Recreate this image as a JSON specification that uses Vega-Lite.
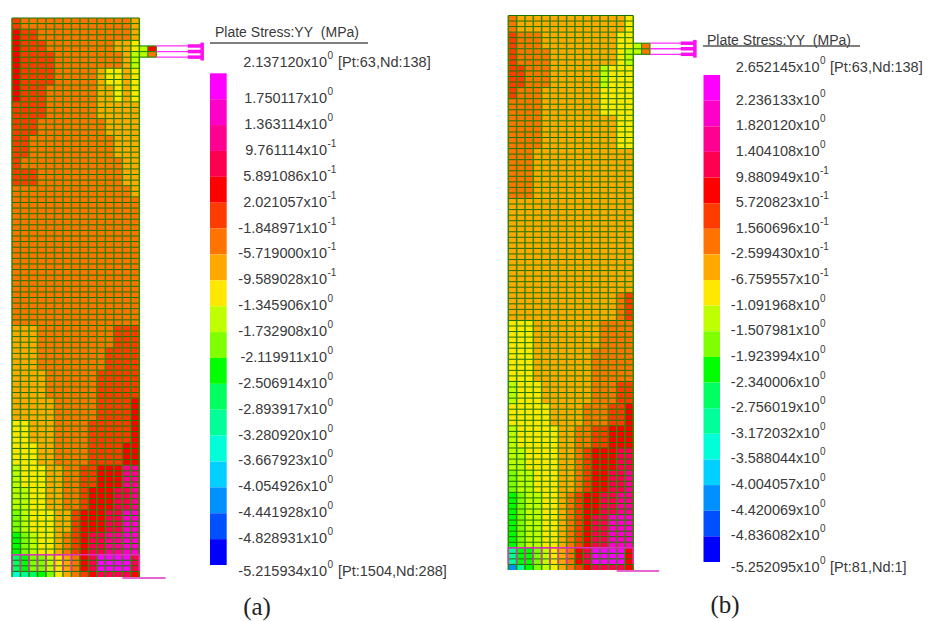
{"$schema":"https://vega.github.io/schema/vega-lite/v6.json","padding":0,"spacing":0,"background":"#ffffff","config":{"view":{"stroke":null},"axis":{"disable":true},"concat":{"spacing":0}},
"datasets":{
"vlines":[{"c0":0,"c1":0,"r0":0,"r1":100},{"c0":1,"c1":1,"r0":0,"r1":100},{"c0":2,"c1":2,"r0":0,"r1":100},{"c0":3,"c1":3,"r0":0,"r1":100},{"c0":4,"c1":4,"r0":0,"r1":100},{"c0":5,"c1":5,"r0":0,"r1":100},{"c0":6,"c1":6,"r0":0,"r1":100},{"c0":7,"c1":7,"r0":0,"r1":100},{"c0":8,"c1":8,"r0":0,"r1":100},{"c0":9,"c1":9,"r0":0,"r1":100},{"c0":10,"c1":10,"r0":0,"r1":100},{"c0":11,"c1":11,"r0":0,"r1":100},{"c0":12,"c1":12,"r0":0,"r1":100},{"c0":13,"c1":13,"r0":0,"r1":100},{"c0":14,"c1":14,"r0":0,"r1":100},{"c0":15,"c1":15,"r0":0,"r1":100}],
"hlines":[{"c0":0,"c1":15,"r0":0,"r1":0},{"c0":0,"c1":15,"r0":1,"r1":1},{"c0":0,"c1":15,"r0":2,"r1":2},{"c0":0,"c1":15,"r0":3,"r1":3},{"c0":0,"c1":15,"r0":4,"r1":4},{"c0":0,"c1":15,"r0":5,"r1":5},{"c0":0,"c1":15,"r0":6,"r1":6},{"c0":0,"c1":15,"r0":7,"r1":7},{"c0":0,"c1":15,"r0":8,"r1":8},{"c0":0,"c1":15,"r0":9,"r1":9},{"c0":0,"c1":15,"r0":10,"r1":10},{"c0":0,"c1":15,"r0":11,"r1":11},{"c0":0,"c1":15,"r0":12,"r1":12},{"c0":0,"c1":15,"r0":13,"r1":13},{"c0":0,"c1":15,"r0":14,"r1":14},{"c0":0,"c1":15,"r0":15,"r1":15},{"c0":0,"c1":15,"r0":16,"r1":16},{"c0":0,"c1":15,"r0":17,"r1":17},{"c0":0,"c1":15,"r0":18,"r1":18},{"c0":0,"c1":15,"r0":19,"r1":19},{"c0":0,"c1":15,"r0":20,"r1":20},{"c0":0,"c1":15,"r0":21,"r1":21},{"c0":0,"c1":15,"r0":22,"r1":22},{"c0":0,"c1":15,"r0":23,"r1":23},{"c0":0,"c1":15,"r0":24,"r1":24},{"c0":0,"c1":15,"r0":25,"r1":25},{"c0":0,"c1":15,"r0":26,"r1":26},{"c0":0,"c1":15,"r0":27,"r1":27},{"c0":0,"c1":15,"r0":28,"r1":28},{"c0":0,"c1":15,"r0":29,"r1":29},{"c0":0,"c1":15,"r0":30,"r1":30},{"c0":0,"c1":15,"r0":31,"r1":31},{"c0":0,"c1":15,"r0":32,"r1":32},{"c0":0,"c1":15,"r0":33,"r1":33},{"c0":0,"c1":15,"r0":34,"r1":34},{"c0":0,"c1":15,"r0":35,"r1":35},{"c0":0,"c1":15,"r0":36,"r1":36},{"c0":0,"c1":15,"r0":37,"r1":37},{"c0":0,"c1":15,"r0":38,"r1":38},{"c0":0,"c1":15,"r0":39,"r1":39},{"c0":0,"c1":15,"r0":40,"r1":40},{"c0":0,"c1":15,"r0":41,"r1":41},{"c0":0,"c1":15,"r0":42,"r1":42},{"c0":0,"c1":15,"r0":43,"r1":43},{"c0":0,"c1":15,"r0":44,"r1":44},{"c0":0,"c1":15,"r0":45,"r1":45},{"c0":0,"c1":15,"r0":46,"r1":46},{"c0":0,"c1":15,"r0":47,"r1":47},{"c0":0,"c1":15,"r0":48,"r1":48},{"c0":0,"c1":15,"r0":49,"r1":49},{"c0":0,"c1":15,"r0":50,"r1":50},{"c0":0,"c1":15,"r0":51,"r1":51},{"c0":0,"c1":15,"r0":52,"r1":52},{"c0":0,"c1":15,"r0":53,"r1":53},{"c0":0,"c1":15,"r0":54,"r1":54},{"c0":0,"c1":15,"r0":55,"r1":55},{"c0":0,"c1":15,"r0":56,"r1":56},{"c0":0,"c1":15,"r0":57,"r1":57},{"c0":0,"c1":15,"r0":58,"r1":58},{"c0":0,"c1":15,"r0":59,"r1":59},{"c0":0,"c1":15,"r0":60,"r1":60},{"c0":0,"c1":15,"r0":61,"r1":61},{"c0":0,"c1":15,"r0":62,"r1":62},{"c0":0,"c1":15,"r0":63,"r1":63},{"c0":0,"c1":15,"r0":64,"r1":64},{"c0":0,"c1":15,"r0":65,"r1":65},{"c0":0,"c1":15,"r0":66,"r1":66},{"c0":0,"c1":15,"r0":67,"r1":67},{"c0":0,"c1":15,"r0":68,"r1":68},{"c0":0,"c1":15,"r0":69,"r1":69},{"c0":0,"c1":15,"r0":70,"r1":70},{"c0":0,"c1":15,"r0":71,"r1":71},{"c0":0,"c1":15,"r0":72,"r1":72},{"c0":0,"c1":15,"r0":73,"r1":73},{"c0":0,"c1":15,"r0":74,"r1":74},{"c0":0,"c1":15,"r0":75,"r1":75},{"c0":0,"c1":15,"r0":76,"r1":76},{"c0":0,"c1":15,"r0":77,"r1":77},{"c0":0,"c1":15,"r0":78,"r1":78},{"c0":0,"c1":15,"r0":79,"r1":79},{"c0":0,"c1":15,"r0":80,"r1":80},{"c0":0,"c1":15,"r0":81,"r1":81},{"c0":0,"c1":15,"r0":82,"r1":82},{"c0":0,"c1":15,"r0":83,"r1":83},{"c0":0,"c1":15,"r0":84,"r1":84},{"c0":0,"c1":15,"r0":85,"r1":85},{"c0":0,"c1":15,"r0":86,"r1":86},{"c0":0,"c1":15,"r0":87,"r1":87},{"c0":0,"c1":15,"r0":88,"r1":88},{"c0":0,"c1":15,"r0":89,"r1":89},{"c0":0,"c1":15,"r0":90,"r1":90},{"c0":0,"c1":15,"r0":91,"r1":91},{"c0":0,"c1":15,"r0":92,"r1":92},{"c0":0,"c1":15,"r0":93,"r1":93},{"c0":0,"c1":15,"r0":94,"r1":94},{"c0":0,"c1":15,"r0":95,"r1":95},{"c0":0,"c1":15,"r0":96,"r1":96},{"c0":0,"c1":15,"r0":97,"r1":97},{"c0":0,"c1":15,"r0":98,"r1":98},{"c0":0,"c1":15,"r0":99,"r1":99}],
"strut":[{"c0":15,"c1":17,"r0":5,"r1":5},{"c0":15,"c1":17,"r0":6,"r1":6},{"c0":15,"c1":17,"r0":7,"r1":7},{"c0":16,"c1":16,"r0":5,"r1":7},{"c0":17,"c1":17,"r0":5,"r1":7}],
"loadA":[{"c0":17,"c1":22.5,"r0":5,"r1":5},{"c0":17,"c1":22.5,"r0":6,"r1":6},{"c0":17,"c1":22.5,"r0":7,"r1":7}],
"headA":[{"c0":20.7,"c1":22.5,"r0":5,"r1":5},{"c0":20.7,"c1":22.5,"r0":6,"r1":6},{"c0":20.7,"c1":22.5,"r0":7,"r1":7},{"c0":22.4,"c1":22.4,"r0":4.4,"r1":7.6}],
"pinkV":[{"c0":0,"c1":0,"r0":96,"r1":99},{"c0":1,"c1":1,"r0":96,"r1":99},{"c0":2,"c1":2,"r0":96,"r1":99},{"c0":3,"c1":3,"r0":96,"r1":99},{"c0":4,"c1":4,"r0":96,"r1":99},{"c0":5,"c1":5,"r0":96,"r1":99},{"c0":6,"c1":6,"r0":96,"r1":99},{"c0":7,"c1":7,"r0":96,"r1":99},{"c0":0,"c1":15,"r0":96,"r1":96},{"c0":15,"c1":15,"r0":96,"r1":99},{"c0":13,"c1":18.1,"r0":100.2,"r1":100.2}],
"cellsA":[
{"c0":0,"c1":1,"r0":0,"r1":2,"l":6},{"c0":1,"c1":14,"r0":0,"r1":2,"l":7},{"c0":14,"c1":15,"r0":0,"r1":2,"l":8},
{"c0":0,"c1":1,"r0":2,"r1":4,"l":5},{"c0":1,"c1":3,"r0":2,"r1":4,"l":6},{"c0":3,"c1":14,"r0":2,"r1":4,"l":7},{"c0":14,"c1":15,"r0":2,"r1":4,"l":8},
{"c0":0,"c1":1,"r0":4,"r1":6,"l":5},{"c0":1,"c1":4,"r0":4,"r1":6,"l":6},{"c0":4,"c1":12,"r0":4,"r1":6,"l":7},{"c0":12,"c1":14,"r0":4,"r1":6,"l":8},{"c0":14,"c1":15,"r0":4,"r1":6,"l":9},
{"c0":0,"c1":1,"r0":6,"r1":9,"l":5},{"c0":1,"c1":5,"r0":6,"r1":9,"l":6},{"c0":5,"c1":13,"r0":6,"r1":9,"l":7},{"c0":13,"c1":14,"r0":6,"r1":9,"l":8},{"c0":14,"c1":15,"r0":6,"r1":9,"l":10},
{"c0":0,"c1":1,"r0":9,"r1":12,"l":5},{"c0":1,"c1":5,"r0":9,"r1":12,"l":6},{"c0":5,"c1":10,"r0":9,"r1":12,"l":7},{"c0":10,"c1":11,"r0":9,"r1":12,"l":8},{"c0":11,"c1":13,"r0":9,"r1":12,"l":9},{"c0":13,"c1":14,"r0":9,"r1":12,"l":8},{"c0":14,"c1":15,"r0":9,"r1":12,"l":9},
{"c0":0,"c1":1,"r0":12,"r1":15,"l":5},{"c0":1,"c1":4,"r0":12,"r1":15,"l":6},{"c0":4,"c1":10,"r0":12,"r1":15,"l":7},{"c0":10,"c1":12,"r0":12,"r1":15,"l":8},{"c0":12,"c1":13,"r0":12,"r1":15,"l":9},{"c0":13,"c1":14,"r0":12,"r1":15,"l":8},{"c0":14,"c1":15,"r0":12,"r1":15,"l":9},
{"c0":0,"c1":4,"r0":15,"r1":18,"l":6},{"c0":4,"c1":10,"r0":15,"r1":18,"l":7},{"c0":10,"c1":15,"r0":15,"r1":18,"l":8},
{"c0":0,"c1":3,"r0":18,"r1":21,"l":6},{"c0":3,"c1":11,"r0":18,"r1":21,"l":7},{"c0":11,"c1":15,"r0":18,"r1":21,"l":8},
{"c0":0,"c1":2,"r0":21,"r1":25,"l":6},{"c0":2,"c1":12,"r0":21,"r1":25,"l":7},{"c0":12,"c1":15,"r0":21,"r1":25,"l":8},
{"c0":0,"c1":1,"r0":25,"r1":27,"l":6},{"c0":1,"c1":13,"r0":25,"r1":27,"l":7},{"c0":13,"c1":15,"r0":25,"r1":27,"l":8},
{"c0":0,"c1":3,"r0":27,"r1":30,"l":6},{"c0":3,"c1":13,"r0":27,"r1":30,"l":7},{"c0":13,"c1":15,"r0":27,"r1":30,"l":8},
{"c0":0,"c1":14,"r0":30,"r1":32,"l":7},{"c0":14,"c1":15,"r0":30,"r1":32,"l":8},
{"c0":0,"c1":15,"r0":32,"r1":55,"l":7},
{"c0":0,"c1":3,"r0":55,"r1":59,"l":8},{"c0":3,"c1":12,"r0":55,"r1":59,"l":7},{"c0":12,"c1":15,"r0":55,"r1":59,"l":6},
{"c0":0,"c1":3,"r0":59,"r1":63,"l":8},{"c0":3,"c1":11,"r0":59,"r1":63,"l":7},{"c0":11,"c1":15,"r0":59,"r1":63,"l":6},
{"c0":0,"c1":4,"r0":63,"r1":68,"l":8},{"c0":4,"c1":10,"r0":63,"r1":68,"l":7},{"c0":10,"c1":15,"r0":63,"r1":68,"l":6},
{"c0":0,"c1":5,"r0":68,"r1":72,"l":8},{"c0":5,"c1":10,"r0":68,"r1":72,"l":7},{"c0":10,"c1":14,"r0":68,"r1":72,"l":6},{"c0":14,"c1":15,"r0":68,"r1":72,"l":5},
{"c0":0,"c1":2,"r0":72,"r1":76,"l":9},{"c0":2,"c1":5,"r0":72,"r1":76,"l":8},{"c0":5,"c1":9,"r0":72,"r1":76,"l":7},{"c0":9,"c1":14,"r0":72,"r1":76,"l":6},{"c0":14,"c1":15,"r0":72,"r1":76,"l":5},
{"c0":0,"c1":3,"r0":76,"r1":80,"l":9},{"c0":3,"c1":5,"r0":76,"r1":80,"l":8},{"c0":5,"c1":9,"r0":76,"r1":80,"l":7},{"c0":9,"c1":13,"r0":76,"r1":80,"l":6},{"c0":13,"c1":15,"r0":76,"r1":80,"l":5},
{"c0":0,"c1":1,"r0":80,"r1":84,"l":10},{"c0":1,"c1":4,"r0":80,"r1":84,"l":9},{"c0":4,"c1":6,"r0":80,"r1":84,"l":8},{"c0":6,"c1":8,"r0":80,"r1":84,"l":7},{"c0":8,"c1":10,"r0":80,"r1":84,"l":6},{"c0":10,"c1":13,"r0":80,"r1":84,"l":5},{"c0":13,"c1":15,"r0":80,"r1":84,"l":3},
{"c0":0,"c1":2,"r0":84,"r1":88,"l":10},{"c0":2,"c1":4,"r0":84,"r1":88,"l":9},{"c0":4,"c1":6,"r0":84,"r1":88,"l":8},{"c0":6,"c1":8,"r0":84,"r1":88,"l":7},{"c0":8,"c1":9,"r0":84,"r1":88,"l":6},{"c0":9,"c1":12,"r0":84,"r1":88,"l":5},{"c0":12,"c1":14,"r0":84,"r1":88,"l":4},{"c0":14,"c1":15,"r0":84,"r1":88,"l":3},
{"c0":0,"c1":1,"r0":88,"r1":92,"l":11},{"c0":1,"c1":2,"r0":88,"r1":92,"l":10},{"c0":2,"c1":5,"r0":88,"r1":92,"l":9},{"c0":5,"c1":7,"r0":88,"r1":92,"l":8},{"c0":7,"c1":8,"r0":88,"r1":92,"l":6},{"c0":8,"c1":11,"r0":88,"r1":92,"l":5},{"c0":11,"c1":13,"r0":88,"r1":92,"l":4},{"c0":13,"c1":15,"r0":88,"r1":92,"l":2},
{"c0":0,"c1":1,"r0":92,"r1":96,"l":12},{"c0":1,"c1":2,"r0":92,"r1":96,"l":11},{"c0":2,"c1":3,"r0":92,"r1":96,"l":10},{"c0":3,"c1":5,"r0":92,"r1":96,"l":9},{"c0":5,"c1":6,"r0":92,"r1":96,"l":8},{"c0":6,"c1":7,"r0":92,"r1":96,"l":7},{"c0":7,"c1":8,"r0":92,"r1":96,"l":6},{"c0":8,"c1":9,"r0":92,"r1":96,"l":5},{"c0":9,"c1":11,"r0":92,"r1":96,"l":4},{"c0":11,"c1":13,"r0":92,"r1":96,"l":3},{"c0":13,"c1":15,"r0":92,"r1":96,"l":2},
{"c0":0,"c1":1,"r0":96,"r1":99,"l":13},{"c0":1,"c1":2,"r0":96,"r1":99,"l":12},{"c0":2,"c1":4,"r0":96,"r1":99,"l":11},{"c0":4,"c1":5,"r0":96,"r1":99,"l":10},{"c0":5,"c1":6,"r0":96,"r1":99,"l":9},{"c0":6,"c1":7,"r0":96,"r1":99,"l":8},{"c0":7,"c1":8,"r0":96,"r1":99,"l":7},{"c0":8,"c1":9,"r0":96,"r1":99,"l":5},{"c0":9,"c1":10,"r0":96,"r1":99,"l":4},{"c0":10,"c1":14,"r0":96,"r1":99,"l":1},{"c0":14,"c1":15,"r0":96,"r1":99,"l":4},
{"c0":0,"c1":1,"r0":99,"r1":100,"l":15},{"c0":1,"c1":2,"r0":99,"r1":100,"l":14},{"c0":2,"c1":3,"r0":99,"r1":100,"l":13},{"c0":3,"c1":4,"r0":99,"r1":100,"l":12},{"c0":4,"c1":5,"r0":99,"r1":100,"l":11},{"c0":5,"c1":6,"r0":99,"r1":100,"l":9},{"c0":6,"c1":7,"r0":99,"r1":100,"l":8},{"c0":7,"c1":8,"r0":99,"r1":100,"l":7},{"c0":8,"c1":9,"r0":99,"r1":100,"l":6},{"c0":9,"c1":10,"r0":99,"r1":100,"l":5},{"c0":10,"c1":14,"r0":99,"r1":100,"l":4},{"c0":14,"c1":15,"r0":99,"r1":100,"l":5},
{"c0":15,"c1":16,"r0":5,"r1":7,"l":10},{"c0":16,"c1":17,"r0":5,"r1":6,"l":5},{"c0":16,"c1":17,"r0":6,"r1":7,"l":7}],
"cellsB":[
{"c0":0,"c1":1,"r0":0,"r1":3,"l":7},{"c0":1,"c1":14,"r0":0,"r1":3,"l":8},{"c0":14,"c1":15,"r0":0,"r1":3,"l":9},
{"c0":0,"c1":1,"r0":3,"r1":6,"l":6},{"c0":1,"c1":4,"r0":3,"r1":6,"l":7},{"c0":4,"c1":13,"r0":3,"r1":6,"l":8},{"c0":13,"c1":15,"r0":3,"r1":6,"l":9},
{"c0":0,"c1":1,"r0":6,"r1":9,"l":6},{"c0":1,"c1":5,"r0":6,"r1":9,"l":7},{"c0":5,"c1":13,"r0":6,"r1":9,"l":8},{"c0":13,"c1":14,"r0":6,"r1":9,"l":9},{"c0":14,"c1":15,"r0":6,"r1":9,"l":10},
{"c0":0,"c1":2,"r0":9,"r1":13,"l":6},{"c0":2,"c1":5,"r0":9,"r1":13,"l":7},{"c0":5,"c1":11,"r0":9,"r1":13,"l":8},{"c0":11,"c1":12,"r0":9,"r1":13,"l":10},{"c0":12,"c1":15,"r0":9,"r1":13,"l":9},
{"c0":0,"c1":1,"r0":13,"r1":15,"l":6},{"c0":1,"c1":4,"r0":13,"r1":15,"l":7},{"c0":4,"c1":11,"r0":13,"r1":15,"l":8},{"c0":11,"c1":15,"r0":13,"r1":15,"l":9},
{"c0":0,"c1":4,"r0":15,"r1":18,"l":7},{"c0":4,"c1":11,"r0":15,"r1":18,"l":8},{"c0":11,"c1":15,"r0":15,"r1":18,"l":9},
{"c0":0,"c1":4,"r0":18,"r1":24,"l":7},{"c0":4,"c1":13,"r0":18,"r1":24,"l":8},{"c0":13,"c1":15,"r0":18,"r1":24,"l":9},
{"c0":0,"c1":3,"r0":24,"r1":33,"l":7},{"c0":3,"c1":15,"r0":24,"r1":33,"l":8},
{"c0":0,"c1":15,"r0":33,"r1":50,"l":8},
{"c0":0,"c1":13,"r0":50,"r1":55,"l":8},{"c0":13,"c1":14,"r0":50,"r1":55,"l":7},{"c0":14,"c1":15,"r0":50,"r1":55,"l":6},
{"c0":0,"c1":3,"r0":55,"r1":60,"l":9},{"c0":3,"c1":11,"r0":55,"r1":60,"l":8},{"c0":11,"c1":15,"r0":55,"r1":60,"l":7},
{"c0":0,"c1":3,"r0":60,"r1":66,"l":9},{"c0":3,"c1":10,"r0":60,"r1":66,"l":8},{"c0":10,"c1":15,"r0":60,"r1":66,"l":7},
{"c0":0,"c1":1,"r0":66,"r1":70,"l":10},{"c0":1,"c1":4,"r0":66,"r1":70,"l":9},{"c0":4,"c1":10,"r0":66,"r1":70,"l":8},{"c0":10,"c1":13,"r0":66,"r1":70,"l":7},{"c0":13,"c1":15,"r0":66,"r1":70,"l":6},
{"c0":0,"c1":5,"r0":70,"r1":74,"l":9},{"c0":5,"c1":9,"r0":70,"r1":74,"l":8},{"c0":9,"c1":12,"r0":70,"r1":74,"l":7},{"c0":12,"c1":14,"r0":70,"r1":74,"l":6},{"c0":14,"c1":15,"r0":70,"r1":74,"l":5},
{"c0":0,"c1":1,"r0":74,"r1":78,"l":10},{"c0":1,"c1":6,"r0":74,"r1":78,"l":9},{"c0":6,"c1":8,"r0":74,"r1":78,"l":8},{"c0":8,"c1":10,"r0":74,"r1":78,"l":7},{"c0":10,"c1":12,"r0":74,"r1":78,"l":6},{"c0":12,"c1":15,"r0":74,"r1":78,"l":5},
{"c0":0,"c1":2,"r0":78,"r1":82,"l":10},{"c0":2,"c1":6,"r0":78,"r1":82,"l":9},{"c0":6,"c1":8,"r0":78,"r1":82,"l":8},{"c0":8,"c1":9,"r0":78,"r1":82,"l":7},{"c0":9,"c1":10,"r0":78,"r1":82,"l":6},{"c0":10,"c1":13,"r0":78,"r1":82,"l":5},{"c0":13,"c1":15,"r0":78,"r1":82,"l":4},
{"c0":0,"c1":1,"r0":82,"r1":86,"l":11},{"c0":1,"c1":3,"r0":82,"r1":86,"l":10},{"c0":3,"c1":6,"r0":82,"r1":86,"l":9},{"c0":6,"c1":8,"r0":82,"r1":86,"l":8},{"c0":8,"c1":9,"r0":82,"r1":86,"l":7},{"c0":9,"c1":10,"r0":82,"r1":86,"l":6},{"c0":10,"c1":12,"r0":82,"r1":86,"l":5},{"c0":12,"c1":14,"r0":82,"r1":86,"l":4},{"c0":14,"c1":15,"r0":82,"r1":86,"l":3},
{"c0":0,"c1":1,"r0":86,"r1":90,"l":12},{"c0":1,"c1":2,"r0":86,"r1":90,"l":11},{"c0":2,"c1":4,"r0":86,"r1":90,"l":10},{"c0":4,"c1":6,"r0":86,"r1":90,"l":9},{"c0":6,"c1":7,"r0":86,"r1":90,"l":8},{"c0":7,"c1":8,"r0":86,"r1":90,"l":7},{"c0":8,"c1":9,"r0":86,"r1":90,"l":6},{"c0":9,"c1":11,"r0":86,"r1":90,"l":5},{"c0":11,"c1":13,"r0":86,"r1":90,"l":4},{"c0":13,"c1":15,"r0":86,"r1":90,"l":3},
{"c0":0,"c1":1,"r0":90,"r1":96,"l":12},{"c0":1,"c1":2,"r0":90,"r1":96,"l":11},{"c0":2,"c1":4,"r0":90,"r1":96,"l":10},{"c0":4,"c1":6,"r0":90,"r1":96,"l":9},{"c0":6,"c1":7,"r0":90,"r1":96,"l":8},{"c0":7,"c1":8,"r0":90,"r1":96,"l":7},{"c0":8,"c1":9,"r0":90,"r1":96,"l":6},{"c0":9,"c1":10,"r0":90,"r1":96,"l":5},{"c0":10,"c1":12,"r0":90,"r1":96,"l":4},{"c0":12,"c1":15,"r0":90,"r1":96,"l":2},
{"c0":0,"c1":1,"r0":96,"r1":99,"l":14},{"c0":1,"c1":3,"r0":96,"r1":99,"l":12},{"c0":3,"c1":4,"r0":96,"r1":99,"l":11},{"c0":4,"c1":5,"r0":96,"r1":99,"l":10},{"c0":5,"c1":6,"r0":96,"r1":99,"l":9},{"c0":6,"c1":7,"r0":96,"r1":99,"l":8},{"c0":7,"c1":8,"r0":96,"r1":99,"l":7},{"c0":8,"c1":9,"r0":96,"r1":99,"l":5},{"c0":9,"c1":10,"r0":96,"r1":99,"l":4},{"c0":10,"c1":14,"r0":96,"r1":99,"l":1},{"c0":14,"c1":15,"r0":96,"r1":99,"l":5},
{"c0":0,"c1":1,"r0":99,"r1":100,"l":17},{"c0":1,"c1":2,"r0":99,"r1":100,"l":14},{"c0":2,"c1":3,"r0":99,"r1":100,"l":12},{"c0":3,"c1":4,"r0":99,"r1":100,"l":11},{"c0":4,"c1":5,"r0":99,"r1":100,"l":10},{"c0":5,"c1":6,"r0":99,"r1":100,"l":9},{"c0":6,"c1":7,"r0":99,"r1":100,"l":8},{"c0":7,"c1":8,"r0":99,"r1":100,"l":7},{"c0":8,"c1":9,"r0":99,"r1":100,"l":6},{"c0":9,"c1":10,"r0":99,"r1":100,"l":5},{"c0":10,"c1":14,"r0":99,"r1":100,"l":4},{"c0":14,"c1":15,"r0":99,"r1":100,"l":5},
{"c0":15,"c1":16,"r0":5,"r1":7,"l":10},{"c0":16,"c1":17,"r0":5,"r1":7,"l":7}],
"bandA":[
{"hi":2.13712,"lo":1.750117,"l":1,"t":"1.750117x10","e":"0"},{"hi":1.750117,"lo":1.363114,"l":2,"t":"1.363114x10","e":"0"},{"hi":1.363114,"lo":0.9761114,"l":3,"t":"9.761114x10","e":"-1"},{"hi":0.9761114,"lo":0.5891086,"l":4,"t":"5.891086x10","e":"-1"},{"hi":0.5891086,"lo":0.2021057,"l":5,"t":"2.021057x10","e":"-1"},{"hi":0.2021057,"lo":-0.1848971,"l":6,"t":"-1.848971x10","e":"-1"},{"hi":-0.1848971,"lo":-0.5719,"l":7,"t":"-5.719000x10","e":"-1"},{"hi":-0.5719,"lo":-0.9589028,"l":8,"t":"-9.589028x10","e":"-1"},{"hi":-0.9589028,"lo":-1.345906,"l":9,"t":"-1.345906x10","e":"0"},{"hi":-1.345906,"lo":-1.732908,"l":10,"t":"-1.732908x10","e":"0"},{"hi":-1.732908,"lo":-2.119911,"l":11,"t":"-2.119911x10","e":"0"},{"hi":-2.119911,"lo":-2.506914,"l":12,"t":"-2.506914x10","e":"0"},{"hi":-2.506914,"lo":-2.893917,"l":13,"t":"-2.893917x10","e":"0"},{"hi":-2.893917,"lo":-3.28092,"l":14,"t":"-3.280920x10","e":"0"},{"hi":-3.28092,"lo":-3.667923,"l":15,"t":"-3.667923x10","e":"0"},{"hi":-3.667923,"lo":-4.054926,"l":16,"t":"-4.054926x10","e":"0"},{"hi":-4.054926,"lo":-4.441928,"l":17,"t":"-4.441928x10","e":"0"},{"hi":-4.441928,"lo":-4.828931,"l":18,"t":"-4.828931x10","e":"0"},{"hi":-4.828931,"lo":-5.215934,"l":19}],
"bandB":[
{"hi":2.652145,"lo":2.236133,"l":1,"t":"2.236133x10","e":"0"},{"hi":2.236133,"lo":1.82012,"l":2,"t":"1.820120x10","e":"0"},{"hi":1.82012,"lo":1.404108,"l":3,"t":"1.404108x10","e":"0"},{"hi":1.404108,"lo":0.9880949,"l":4,"t":"9.880949x10","e":"-1"},{"hi":0.9880949,"lo":0.5720823,"l":5,"t":"5.720823x10","e":"-1"},{"hi":0.5720823,"lo":0.1560696,"l":6,"t":"1.560696x10","e":"-1"},{"hi":0.1560696,"lo":-0.259943,"l":7,"t":"-2.599430x10","e":"-1"},{"hi":-0.259943,"lo":-0.6759557,"l":8,"t":"-6.759557x10","e":"-1"},{"hi":-0.6759557,"lo":-1.091968,"l":9,"t":"-1.091968x10","e":"0"},{"hi":-1.091968,"lo":-1.507981,"l":10,"t":"-1.507981x10","e":"0"},{"hi":-1.507981,"lo":-1.923994,"l":11,"t":"-1.923994x10","e":"0"},{"hi":-1.923994,"lo":-2.340006,"l":12,"t":"-2.340006x10","e":"0"},{"hi":-2.340006,"lo":-2.756019,"l":13,"t":"-2.756019x10","e":"0"},{"hi":-2.756019,"lo":-3.172032,"l":14,"t":"-3.172032x10","e":"0"},{"hi":-3.172032,"lo":-3.588044,"l":15,"t":"-3.588044x10","e":"0"},{"hi":-3.588044,"lo":-4.004057,"l":16,"t":"-4.004057x10","e":"0"},{"hi":-4.004057,"lo":-4.420069,"l":17,"t":"-4.420069x10","e":"0"},{"hi":-4.420069,"lo":-4.836082,"l":18,"t":"-4.836082x10","e":"0"},{"hi":-4.836082,"lo":-5.252095,"l":19}],
"topA":[{"v":2.13712,"t":"2.137120x10","e":"0","s":"[Pt:63,Nd:138]"}],"botA":[{"v":-5.215934,"t":"-5.215934x10","e":"0","s":"[Pt:1504,Nd:288]"}],
"topB":[{"v":2.652145,"t":"2.652145x10","e":"0","s":"[Pt:63,Nd:138]"}],"botB":[{"v":-5.252095,"t":"-5.252095x10","e":"0","s":"[Pt:81,Nd:1]"}]
},
"hconcat":[
{"width":208,"height":621,"encoding":{"x":{"field":"c0","type":"quantitative","scale":{"domain":[-1.413,23.086],"nice":false,"zero":false},"axis":null},"y":{"field":"r0","type":"quantitative","scale":{"domain":[-3.22,107.87],"reverse":true,"nice":false,"zero":false},"axis":null}},
"layer":[
{"data":{"name":"cellsA"},"mark":{"type":"rect"},"encoding":{"x2":{"field":"c1"},"y2":{"field":"r1"},"color":{"field":"l","type":"ordinal","legend":null,"scale":{"domain":[1,2,3,4,5,6,7,8,9,10,11,12,13,14,15,16,17,18,19],"range":["#ff00ff","#ff00c8","#ff0090","#ff0050","#ff0000","#ff3c00","#ff7400","#ffa800","#ffe800","#c0ff00","#80ff00","#00ff00","#00ff60","#00ff98","#00ffd8","#00d0ff","#0090ff","#0050ff","#0000ff"]}}}},
{"data":{"name":"hlines"},"mark":{"type":"rule","color":"#1c6e00","strokeWidth":1},"encoding":{"x2":{"field":"c1"},"y2":{"field":"r1"}}},
{"data":{"name":"vlines"},"mark":{"type":"rule","color":"#2b8a00","strokeWidth":1.5},"encoding":{"x2":{"field":"c1"},"y2":{"field":"r1"}}},
{"data":{"name":"strut"},"mark":{"type":"rule","color":"#2b8a00","strokeWidth":1.2},"encoding":{"x2":{"field":"c1"},"y2":{"field":"r1"}}},
{"data":{"name":"loadA"},"mark":{"type":"rule","color":"#ff30ff","strokeWidth":1.3},"encoding":{"x2":{"field":"c1"},"y2":{"field":"r1"}}},
{"data":{"name":"headA"},"mark":{"type":"rule","color":"#ff10f0","strokeWidth":3.5},"encoding":{"x2":{"field":"c1"},"y2":{"field":"r1"}}},
{"data":{"name":"pinkV"},"mark":{"type":"rule","color":"#e030c0","strokeWidth":1.5},"encoding":{"x2":{"field":"c1"},"y2":{"field":"r1"}}}
]},
{"width":287,"height":621,"encoding":{"x":{"datum":1,"type":"quantitative","scale":{"domain":[0,287],"nice":false,"zero":false},"axis":null},"y":{"field":"v","type":"quantitative","scale":{"domain":[-6.0533,3.2333],"nice":false,"zero":false},"axis":null}},
"layer":[
{"data":{"name":"bandA"},"mark":{"type":"rect"},"encoding":{"x":{"datum":2},"x2":{"datum":18.7},"y":{"field":"hi","type":"quantitative"},"y2":{"field":"lo"},"color":{"field":"l","type":"ordinal","legend":null,"scale":{"domain":[1,2,3,4,5,6,7,8,9,10,11,12,13,14,15,16,17,18,19],"range":["#ff00ff","#ff00c8","#ff0090","#ff0050","#ff0000","#ff3c00","#ff7400","#ffa800","#ffe800","#c0ff00","#80ff00","#00ff00","#00ff60","#00ff98","#00ffd8","#00d0ff","#0090ff","#0050ff","#0000ff"]}}}},
{"data":{"name":"bandA"},"transform":[{"filter":"datum.l<19"}],"mark":{"type":"text","align":"right","baseline":"middle","font":"Liberation Sans","fontSize":14.5,"color":"#3a3a3a"},"encoding":{"x":{"datum":119},"y":{"field":"lo","type":"quantitative"},"text":{"field":"t"}}},
{"data":{"name":"bandA"},"transform":[{"filter":"datum.l<19"}],"mark":{"type":"text","align":"left","baseline":"middle","dy":-7,"font":"Liberation Sans","fontSize":10,"color":"#3a3a3a"},"encoding":{"x":{"datum":119.5},"y":{"field":"lo","type":"quantitative"},"text":{"field":"e"}}},
{"data":{"name":"topA"},"mark":{"type":"text","align":"right","baseline":"middle","dy":-10,"font":"Liberation Sans","fontSize":14.5,"color":"#3a3a3a"},"encoding":{"x":{"datum":119},"text":{"field":"t"}}},
{"data":{"name":"topA"},"mark":{"type":"text","align":"left","baseline":"middle","dy":-17,"font":"Liberation Sans","fontSize":10,"color":"#3a3a3a"},"encoding":{"x":{"datum":119.5},"text":{"field":"e"}}},
{"data":{"name":"topA"},"mark":{"type":"text","align":"left","baseline":"middle","dy":-10,"font":"Liberation Sans","fontSize":14.5,"color":"#3a3a3a"},"encoding":{"x":{"datum":130},"text":{"field":"s"}}},
{"data":{"name":"botA"},"mark":{"type":"text","align":"right","baseline":"middle","dy":7,"font":"Liberation Sans","fontSize":14.5,"color":"#3a3a3a"},"encoding":{"x":{"datum":119},"text":{"field":"t"}}},
{"data":{"name":"botA"},"mark":{"type":"text","align":"left","baseline":"middle","dy":0,"font":"Liberation Sans","fontSize":10,"color":"#3a3a3a"},"encoding":{"x":{"datum":119.5},"text":{"field":"e"}}},
{"data":{"name":"botA"},"mark":{"type":"text","align":"left","baseline":"middle","dy":7,"font":"Liberation Sans","fontSize":14.5,"color":"#3a3a3a"},"encoding":{"x":{"datum":130},"text":{"field":"s"}}},
{"data":{"values":[{"v":2.7398,"t":"Plate Stress:YY\u00a0 (MPa)"}]},"mark":{"type":"text","align":"left","baseline":"middle","font":"Liberation Sans","fontSize":14,"color":"#3a3a3a"},"encoding":{"x":{"datum":7},"text":{"field":"t"}}},
{"data":{"values":[{"v":2.5903}]},"mark":{"type":"rule","color":"#555555","strokeWidth":1.3},"encoding":{"x":{"datum":2},"x2":{"datum":160}}},
{"data":{"values":[{"v":-5.844,"t":"(a)"}]},"mark":{"type":"text","align":"center","baseline":"middle","font":"Liberation Serif","fontSize":25,"color":"#222222"},"encoding":{"x":{"datum":49},"text":{"field":"t"}}}
]},
{"width":205,"height":621,"encoding":{"x":{"field":"c0","type":"quantitative","scale":{"domain":[-1.597,23.01],"nice":false,"zero":false},"axis":null},"y":{"field":"r0","type":"quantitative","scale":{"domain":[-2.795,109.2],"reverse":true,"nice":false,"zero":false},"axis":null}},
"layer":[
{"data":{"name":"cellsB"},"mark":{"type":"rect"},"encoding":{"x2":{"field":"c1"},"y2":{"field":"r1"},"color":{"field":"l","type":"ordinal","legend":null,"scale":{"domain":[1,2,3,4,5,6,7,8,9,10,11,12,13,14,15,16,17,18,19],"range":["#ff00ff","#ff00c8","#ff0090","#ff0050","#ff0000","#ff3c00","#ff7400","#ffa800","#ffe800","#c0ff00","#80ff00","#00ff00","#00ff60","#00ff98","#00ffd8","#00d0ff","#0090ff","#0050ff","#0000ff"]}}}},
{"data":{"name":"hlines"},"mark":{"type":"rule","color":"#1c6e00","strokeWidth":1},"encoding":{"x2":{"field":"c1"},"y2":{"field":"r1"}}},
{"data":{"name":"vlines"},"mark":{"type":"rule","color":"#2b8a00","strokeWidth":1.5},"encoding":{"x2":{"field":"c1"},"y2":{"field":"r1"}}},
{"data":{"name":"strut"},"mark":{"type":"rule","color":"#2b8a00","strokeWidth":1.2},"encoding":{"x2":{"field":"c1"},"y2":{"field":"r1"}}},
{"data":{"name":"loadA"},"mark":{"type":"rule","color":"#ff30ff","strokeWidth":1.3},"encoding":{"x2":{"field":"c1"},"y2":{"field":"r1"}}},
{"data":{"name":"headA"},"mark":{"type":"rule","color":"#ff10f0","strokeWidth":3.5},"encoding":{"x2":{"field":"c1"},"y2":{"field":"r1"}}},
{"data":{"name":"pinkV"},"mark":{"type":"rule","color":"#e030c0","strokeWidth":1.5},"encoding":{"x2":{"field":"c1"},"y2":{"field":"r1"}}}
]},
{"width":228,"height":621,"encoding":{"x":{"datum":1,"type":"quantitative","scale":{"domain":[0,228],"nice":false,"zero":false},"axis":null},"y":{"field":"v","type":"quantitative","scale":{"domain":[-6.2101,3.8695],"nice":false,"zero":false},"axis":null}},
"layer":[
{"data":{"name":"bandB"},"mark":{"type":"rect"},"encoding":{"x":{"datum":3.5},"x2":{"datum":20},"y":{"field":"hi","type":"quantitative"},"y2":{"field":"lo"},"color":{"field":"l","type":"ordinal","legend":null,"scale":{"domain":[1,2,3,4,5,6,7,8,9,10,11,12,13,14,15,16,17,18,19],"range":["#ff00ff","#ff00c8","#ff0090","#ff0050","#ff0000","#ff3c00","#ff7400","#ffa800","#ffe800","#c0ff00","#80ff00","#00ff00","#00ff60","#00ff98","#00ffd8","#00d0ff","#0090ff","#0050ff","#0000ff"]}}}},
{"data":{"name":"bandB"},"transform":[{"filter":"datum.l<19"}],"mark":{"type":"text","align":"right","baseline":"middle","font":"Liberation Sans","fontSize":14.5,"color":"#3a3a3a"},"encoding":{"x":{"datum":119.5},"y":{"field":"lo","type":"quantitative"},"text":{"field":"t"}}},
{"data":{"name":"bandB"},"transform":[{"filter":"datum.l<19"}],"mark":{"type":"text","align":"left","baseline":"middle","dy":-7,"font":"Liberation Sans","fontSize":10,"color":"#3a3a3a"},"encoding":{"x":{"datum":120},"y":{"field":"lo","type":"quantitative"},"text":{"field":"e"}}},
{"data":{"name":"topB"},"mark":{"type":"text","align":"right","baseline":"middle","dy":-7,"font":"Liberation Sans","fontSize":14.5,"color":"#3a3a3a"},"encoding":{"x":{"datum":119.5},"text":{"field":"t"}}},
{"data":{"name":"topB"},"mark":{"type":"text","align":"left","baseline":"middle","dy":-14,"font":"Liberation Sans","fontSize":10,"color":"#3a3a3a"},"encoding":{"x":{"datum":120},"text":{"field":"e"}}},
{"data":{"name":"topB"},"mark":{"type":"text","align":"left","baseline":"middle","dy":-7,"font":"Liberation Sans","fontSize":14.5,"color":"#3a3a3a"},"encoding":{"x":{"datum":130},"text":{"field":"s"}}},
{"data":{"name":"botB"},"mark":{"type":"text","align":"right","baseline":"middle","dy":6,"font":"Liberation Sans","fontSize":14.5,"color":"#3a3a3a"},"encoding":{"x":{"datum":119.5},"text":{"field":"t"}}},
{"data":{"name":"botB"},"mark":{"type":"text","align":"left","baseline":"middle","dy":-1,"font":"Liberation Sans","fontSize":10,"color":"#3a3a3a"},"encoding":{"x":{"datum":120},"text":{"field":"e"}}},
{"data":{"name":"botB"},"mark":{"type":"text","align":"left","baseline":"middle","dy":6,"font":"Liberation Sans","fontSize":14.5,"color":"#3a3a3a"},"encoding":{"x":{"datum":130},"text":{"field":"s"}}},
{"data":{"values":[{"v":3.2014,"t":"Plate Stress:YY\u00a0 (MPa)"}]},"mark":{"type":"text","align":"left","baseline":"middle","font":"Liberation Sans","fontSize":14,"color":"#3a3a3a"},"encoding":{"x":{"datum":7},"text":{"field":"t"}}},
{"data":{"values":[{"v":3.1229}]},"mark":{"type":"rule","color":"#555555","strokeWidth":1.3},"encoding":{"x":{"datum":3},"x2":{"datum":160}}},
{"data":{"values":[{"v":-5.95,"t":"(b)"}]},"mark":{"type":"text","align":"center","baseline":"middle","font":"Liberation Serif","fontSize":25,"color":"#222222"},"encoding":{"x":{"datum":25},"text":{"field":"t"}}}
]}
]}
